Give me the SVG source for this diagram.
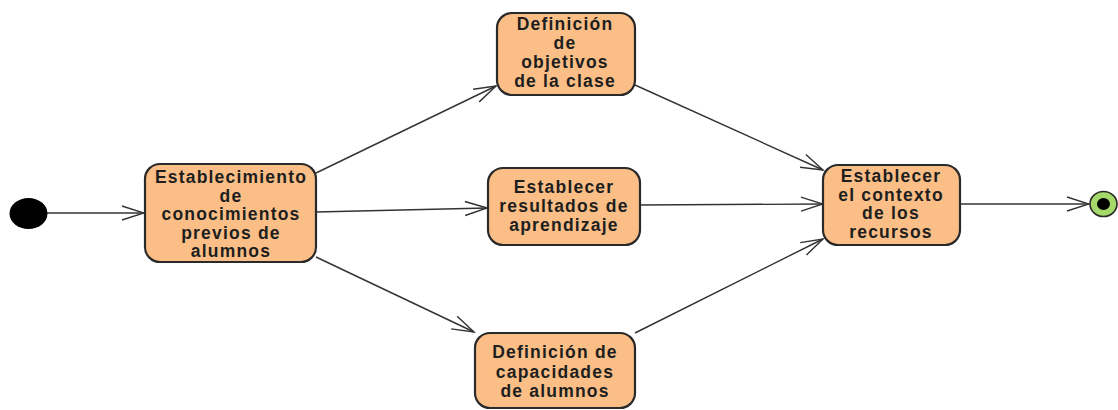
<svg xmlns="http://www.w3.org/2000/svg" width="1118" height="410" viewBox="0 0 1118 410">
<style>
.node rect{fill:#FBBE86;stroke:#2a2a2a;stroke-width:2.2}
.node text{font-family:"Liberation Sans",Arial,sans-serif;font-weight:bold;font-size:17.5px;letter-spacing:1.2px;fill:#1e1e1e;text-anchor:middle}
.edge{stroke:#333;stroke-width:1.4;fill:none;marker-end:url(#arr)}
</style>
<defs>
<marker id="arr" markerUnits="userSpaceOnUse" viewBox="-24 -9 26 18" refX="0" refY="0" markerWidth="26" markerHeight="18" orient="auto">
<path d="M-22,-7 L0,0 L-22,7" fill="none" stroke="#333" stroke-width="1.4"/>
</marker>
</defs>
<rect width="1118" height="410" fill="#fff"/>
<g id="connectors">
<line class="edge" x1="47" y1="213" x2="144" y2="213"/>
<line class="edge" x1="316" y1="173" x2="496" y2="86"/>
<line class="edge" x1="316" y1="212" x2="487" y2="208"/>
<line class="edge" x1="316" y1="257" x2="474" y2="332"/>
<line class="edge" x1="635" y1="85" x2="823" y2="170"/>
<line class="edge" x1="640" y1="205" x2="823" y2="204"/>
<line class="edge" x1="635" y1="333" x2="823" y2="239"/>
<line class="edge" x1="960" y1="204" x2="1089" y2="204"/>
</g>
<g id="start"><ellipse cx="28.5" cy="213.5" rx="19" ry="15.5" fill="#000"/></g>
<g id="n1" class="node">
<rect x="145" y="164" width="171" height="98" rx="15"/>
<text x="231" y="183">Establecimiento</text>
<text x="231" y="201.5">de</text>
<text x="231" y="220">conocimientos</text>
<text x="231" y="238.5">previos de</text>
<text x="231" y="257">alumnos</text>
</g>
<g id="n2" class="node">
<rect x="497" y="13" width="138" height="82" rx="15"/>
<text x="565" y="30">Definición</text>
<text x="565" y="49">de</text>
<text x="565" y="68">objetivos</text>
<text x="565" y="87">de la clase</text>
</g>
<g id="n3" class="node">
<rect x="488" y="168" width="152" height="77" rx="15"/>
<text x="564" y="193">Establecer</text>
<text x="564" y="212">resultados de</text>
<text x="564" y="231">aprendizaje</text>
</g>
<g id="n4" class="node">
<rect x="475" y="333" width="160" height="75" rx="15"/>
<text x="555" y="358">Definición de</text>
<text x="555" y="377.5">capacidades</text>
<text x="555" y="397">de alumnos</text>
</g>
<g id="n5" class="node">
<rect x="823" y="165" width="137" height="80" rx="15"/>
<text x="891" y="182">Establecer</text>
<text x="891" y="200.5">el contexto</text>
<text x="891" y="219">de los</text>
<text x="891" y="237.5">recursos</text>
</g>
<g id="end">
<ellipse cx="1103.5" cy="204" rx="13.5" ry="12.5" fill="#A5D96A" stroke="#2a2a2a" stroke-width="1.6"/>
<ellipse cx="1103.5" cy="204" rx="6.5" ry="6" fill="#000"/>
</g>
</svg>
